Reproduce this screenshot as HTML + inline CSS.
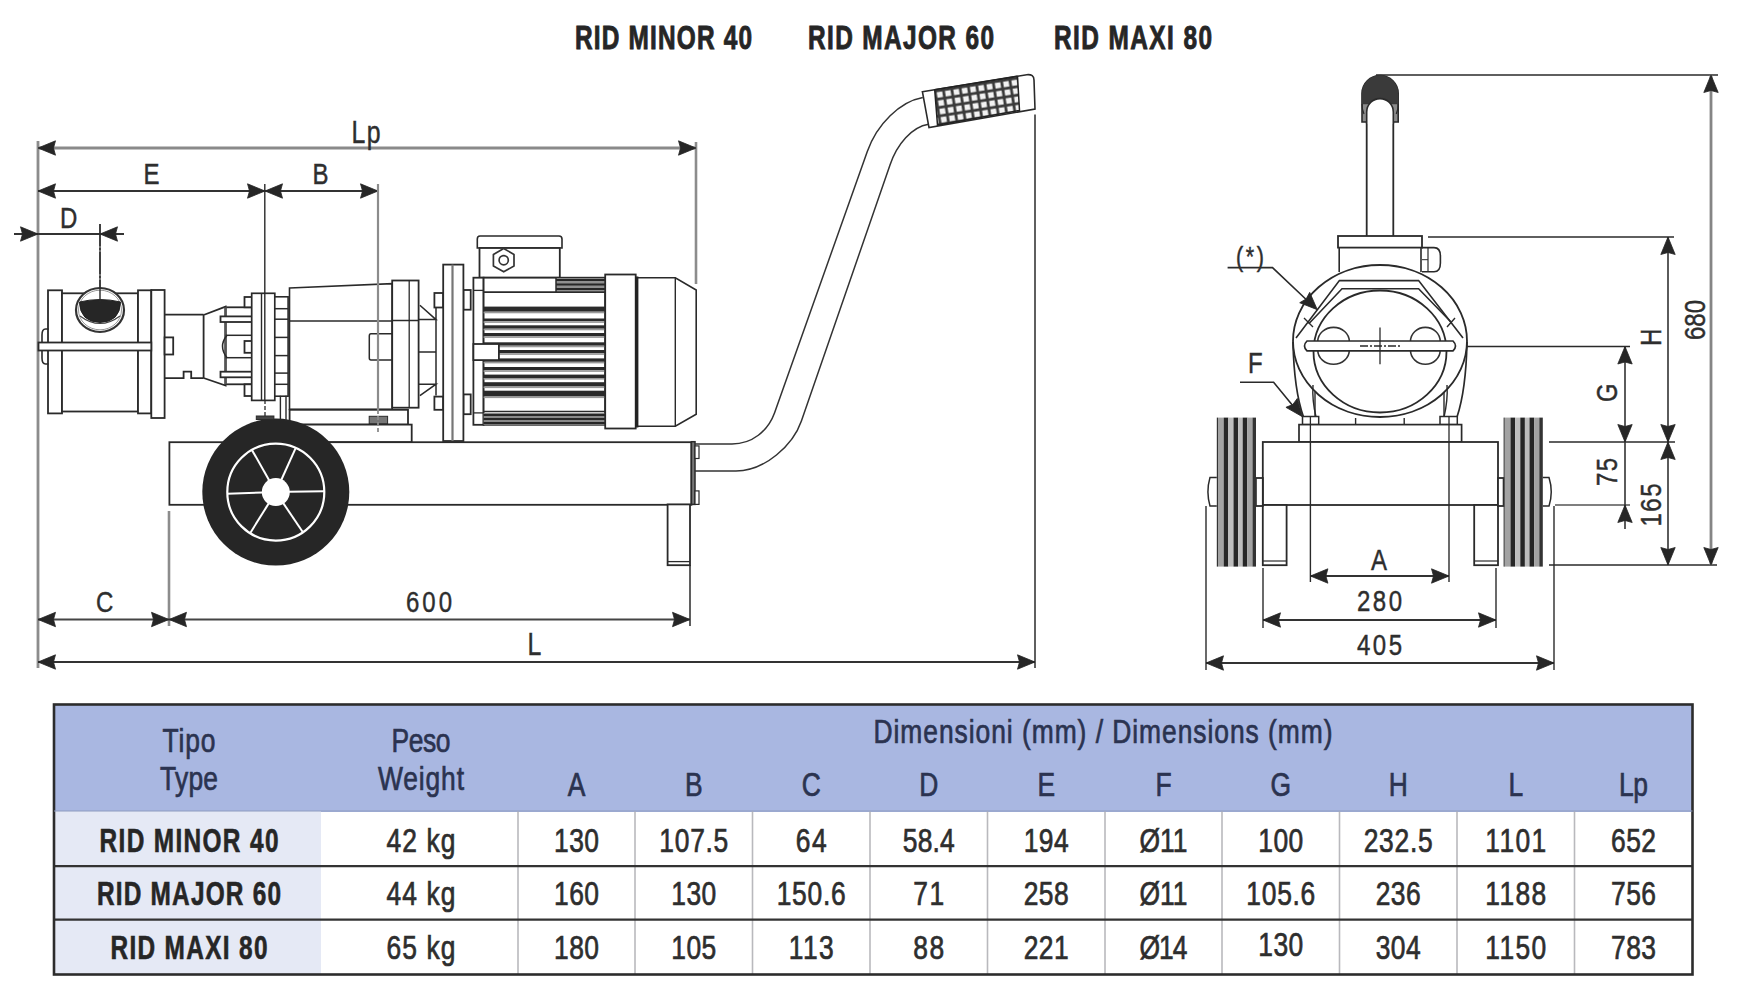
<!DOCTYPE html><html><head><meta charset="utf-8"><style>html,body{margin:0;padding:0;background:#fff;}svg{display:block;}text{font-family:"Liberation Sans",sans-serif;}</style></head><body>
<svg width="1745" height="1000" viewBox="0 0 1745 1000">
<defs><path id="ar" d="M0 0 L17.5 -7.2 L15.5 0 L17.5 7.2 Z" fill="#262626" stroke="#262626" stroke-width="0.8" stroke-linejoin="round"/>
<pattern id="mesh" width="8.4" height="8.4" patternUnits="userSpaceOnUse" patternTransform="rotate(-9) translate(2 1)"><rect width="8.4" height="8.4" fill="#3a3a3a"/><rect x="1.5" y="1.5" width="5.6" height="5.6" fill="#f2f2f2"/></pattern>
</defs>
<rect width="1745" height="1000" fill="#fff"/>
<text x="0" y="0" transform="translate(575 49) scale(0.74 1)" font-size="33" font-weight="bold" fill="#262626" text-anchor="start" textLength="239.19" lengthAdjust="spacing" stroke="#262626" stroke-width="0.9" >RID MINOR 40</text>
<text x="0" y="0" transform="translate(808 49) scale(0.74 1)" font-size="33" font-weight="bold" fill="#262626" text-anchor="start" textLength="251.35" lengthAdjust="spacing" stroke="#262626" stroke-width="0.9" >RID MAJOR 60</text>
<text x="0" y="0" transform="translate(1054 49) scale(0.74 1)" font-size="33" font-weight="bold" fill="#262626" text-anchor="start" textLength="213.51" lengthAdjust="spacing" stroke="#262626" stroke-width="0.9" >RID MAXI 80</text>
<line x1="38" y1="141" x2="38" y2="668" stroke="#8c8c8c" stroke-width="2.8" />
<line x1="696" y1="142" x2="696" y2="284" stroke="#8c8c8c" stroke-width="2.6" />
<line x1="378" y1="184" x2="378" y2="430" stroke="#8c8c8c" stroke-width="2" />
<line x1="100" y1="224" x2="100" y2="300" stroke="#2a2a2a" stroke-width="1.3" />
<line x1="169" y1="511" x2="169" y2="626" stroke="#8c8c8c" stroke-width="2.6" />
<line x1="690" y1="565" x2="690" y2="626" stroke="#2a2a2a" stroke-width="1.5" />
<line x1="1035" y1="114.5" x2="1035" y2="668" stroke="#2a2a2a" stroke-width="1.5" />
<line x1="38" y1="148" x2="696" y2="148" stroke="#8a8a8a" stroke-width="3" />
<use href="#ar" transform="translate(38 148) rotate(0)"/>
<use href="#ar" transform="translate(696 148) rotate(180)"/>
<line x1="38" y1="191" x2="378" y2="191" stroke="#333" stroke-width="2" />
<use href="#ar" transform="translate(38 191) rotate(0)"/>
<use href="#ar" transform="translate(265 191) rotate(180)"/>
<use href="#ar" transform="translate(265 191) rotate(0)"/>
<use href="#ar" transform="translate(378 191) rotate(180)"/>
<line x1="14" y1="234" x2="124" y2="234" stroke="#333" stroke-width="1.8" />
<use href="#ar" transform="translate(38 234) rotate(180)"/>
<use href="#ar" transform="translate(100 234) rotate(0)"/>
<line x1="38" y1="619.5" x2="690" y2="619.5" stroke="#444" stroke-width="2.2" />
<use href="#ar" transform="translate(38 619.5) rotate(0)"/>
<use href="#ar" transform="translate(169 619.5) rotate(180)"/>
<use href="#ar" transform="translate(169 619.5) rotate(0)"/>
<use href="#ar" transform="translate(690 619.5) rotate(180)"/>
<line x1="38" y1="662" x2="1035" y2="662" stroke="#333" stroke-width="2" />
<use href="#ar" transform="translate(38 662) rotate(0)"/>
<use href="#ar" transform="translate(1035 662) rotate(180)"/>
<text x="0" y="0" transform="translate(351.5 143) scale(0.8 1)" font-size="31" font-weight="normal" fill="#2e2e2e" text-anchor="start" textLength="36.25" lengthAdjust="spacing" stroke="#2e2e2e" stroke-width="0.45" >Lp</text>
<text x="0" y="0" transform="translate(143.5 184) scale(0.8 1)" font-size="30" font-weight="normal" fill="#2e2e2e" text-anchor="start" textLength="20.62" lengthAdjust="spacing" stroke="#2e2e2e" stroke-width="0.45" >E</text>
<text x="0" y="0" transform="translate(312.5 184) scale(0.8 1)" font-size="30" font-weight="normal" fill="#2e2e2e" text-anchor="start" textLength="20.62" lengthAdjust="spacing" stroke="#2e2e2e" stroke-width="0.45" >B</text>
<text x="0" y="0" transform="translate(60 228) scale(0.8 1)" font-size="30" font-weight="normal" fill="#2e2e2e" text-anchor="start" textLength="20.62" lengthAdjust="spacing" stroke="#2e2e2e" stroke-width="0.45" >D</text>
<text x="0" y="0" transform="translate(96 611.5) scale(0.8 1)" font-size="30" font-weight="normal" fill="#2e2e2e" text-anchor="start" textLength="18.75" lengthAdjust="spacing" stroke="#2e2e2e" stroke-width="0.45" >C</text>
<text x="0" y="0" transform="translate(406 612) scale(0.8 1)" font-size="30" font-weight="normal" fill="#2e2e2e" text-anchor="start" textLength="57.5" lengthAdjust="spacing" stroke="#2e2e2e" stroke-width="0.45" >600</text>
<text x="0" y="0" transform="translate(527.5 655) scale(0.8 1)" font-size="31" font-weight="normal" fill="#2e2e2e" text-anchor="start" textLength="21.88" lengthAdjust="spacing" stroke="#2e2e2e" stroke-width="0.45" >L</text>
<rect x="48" y="290.3" width="14" height="123.1" stroke="#2a2a2a" stroke-width="1.8" fill="#fff" />
<rect x="62" y="293.3" width="76" height="118.2" stroke="#2a2a2a" stroke-width="1.8" fill="#fff" />
<rect x="138" y="290.3" width="13.3" height="123.1" stroke="#2a2a2a" stroke-width="1.8" fill="#fff" />
<rect x="151.3" y="290" width="13.3" height="128" stroke="#2a2a2a" stroke-width="1.8" fill="#fff" />
<path d="M48.5 329 L45.5 329 Q42 329 42 335 L42 358 Q42 364 45.5 364 L48.5 364" stroke="#2a2a2a" stroke-width="1.6" fill="none" />
<rect x="38.5" y="342.5" width="112.8" height="8.0" stroke="#2a2a2a" stroke-width="1.8" fill="#fff" />
<ellipse cx="100" cy="310" rx="24" ry="22" fill="#fff" stroke="#333" stroke-width="2.2"/>
<ellipse cx="100" cy="310" rx="21.5" ry="19.8" fill="none" stroke="#999" stroke-width="1"/>
<path d="M79.5 302 Q100 297 120.5 302 Q120 322 100 322.5 Q80 322 79.5 302 Z" stroke="#222" stroke-width="1" fill="#262626" />
<path d="M80 316 Q100 331 120 316" stroke="#444" stroke-width="1.2" fill="none" />
<line x1="100" y1="224" x2="100" y2="302" stroke="#2a2a2a" stroke-width="1.4" stroke-dasharray="22 2 2 2"/>
<path d="M164.6 314.6 L203.6 314.6 M164.6 378.2 L183.6 378.2 L183.6 371.6 L191.2 371.6 L191.2 378.2 L203.6 378.2" stroke="#2a2a2a" stroke-width="1.8" fill="none" />
<rect x="164.6" y="337.4" width="8.6" height="17.1" stroke="#2a2a2a" stroke-width="1.8" fill="#fff" />
<path d="M203.6 314.6 L203.6 378.2 M203.6 315 L225.6 306.6 L225.6 385.6 L203.6 378 " stroke="#2a2a2a" stroke-width="1.8" fill="none" />
<rect x="225.6" y="307.3" width="26.4" height="77.0" stroke="#2a2a2a" stroke-width="1.8" fill="#fff" />
<line x1="225.6" y1="307.3" x2="225.6" y2="384.3" stroke="#555" stroke-width="2.4" />
<rect x="220.5" y="316.4" width="31.5" height="5.6" stroke="#2a2a2a" stroke-width="1.8" fill="#fff" />
<rect x="220.5" y="371.7" width="31.5" height="5.6" stroke="#2a2a2a" stroke-width="1.8" fill="#fff" />
<line x1="225.6" y1="335.3" x2="252" y2="335.3" stroke="#2a2a2a" stroke-width="1.5" />
<line x1="225.6" y1="357.7" x2="252" y2="357.7" stroke="#2a2a2a" stroke-width="1.5" />
<path d="M227 335.3 Q218 346.5 227 357.7" stroke="#2a2a2a" stroke-width="1.5" fill="none" />
<rect x="244.5" y="341" width="7.5" height="11.8" stroke="#2a2a2a" stroke-width="1.8" fill="#fff" />
<rect x="244.5" y="297" width="7.5" height="10.3" stroke="#2a2a2a" stroke-width="1.8" fill="#fff" />
<rect x="244.5" y="384.3" width="7.5" height="11.7" stroke="#2a2a2a" stroke-width="1.8" fill="#fff" />
<rect x="251.7" y="293.3" width="23.1" height="107.1" stroke="#2a2a2a" stroke-width="1.7" fill="#fff" />
<line x1="261.5" y1="293.3" x2="261.5" y2="400.4" stroke="#2a2a2a" stroke-width="1.4" />
<line x1="264.8" y1="184" x2="264.8" y2="400.4" stroke="#2a2a2a" stroke-width="1.4" />
<rect x="274.8" y="296.8" width="13.3" height="99.4" stroke="#2a2a2a" stroke-width="1.6" fill="#fff" />
<line x1="274.8" y1="308.7" x2="288.1" y2="308.7" stroke="#2a2a2a" stroke-width="1.5" />
<line x1="274.8" y1="319.2" x2="288.1" y2="319.2" stroke="#2a2a2a" stroke-width="1.5" />
<line x1="274.8" y1="337.4" x2="288.1" y2="337.4" stroke="#2a2a2a" stroke-width="1.5" />
<line x1="274.8" y1="355.6" x2="288.1" y2="355.6" stroke="#2a2a2a" stroke-width="1.5" />
<line x1="274.8" y1="373.1" x2="288.1" y2="373.1" stroke="#2a2a2a" stroke-width="1.5" />
<line x1="274.8" y1="384.3" x2="288.1" y2="384.3" stroke="#2a2a2a" stroke-width="1.5" />
<path d="M289.5 288 L392.2 283.6 L392.2 409.4 L289.5 409.4 Z" stroke="#2a2a2a" stroke-width="1.6" fill="#fff" />
<line x1="289.5" y1="321" x2="418.6" y2="321" stroke="#2a2a2a" stroke-width="1.6" />
<path d="M392.2 333.8 L371 333.8 Q369.3 333.8 369.3 336 L369.3 358 Q369.3 360 371 360 L392.2 360" stroke="#2a2a2a" stroke-width="1.5" fill="none" />
<rect x="392.2" y="280.5" width="26.4" height="127.2" stroke="#2a2a2a" stroke-width="1.8" fill="#fff" />
<line x1="409.2" y1="280.5" x2="409.2" y2="407.7" stroke="#2a2a2a" stroke-width="1.3" />
<line x1="392.2" y1="320.5" x2="418.6" y2="320.5" stroke="#2a2a2a" stroke-width="1.5" />
<path d="M419.9 305.3 L436 319.6 L418.6 319.6 M419.9 395.6 L436 384.2 L418.6 384.2 M418.6 352 L436 352 M436 308 L436 395.6" stroke="#2a2a2a" stroke-width="1.5" fill="none" />
<rect x="289.6" y="409.8" width="118.4" height="14.8" stroke="#2a2a2a" stroke-width="1.8" fill="#fff" />
<rect x="289.6" y="424.6" width="122.1" height="17.6" stroke="#2a2a2a" stroke-width="1.8" fill="#fff" />
<rect x="369.2" y="416.3" width="18.4" height="7.4" stroke="#2a2a2a" stroke-width="1" fill="#777" />
<line x1="378" y1="184" x2="378" y2="410" stroke="#8c8c8c" stroke-width="2.2" />
<line x1="378" y1="410" x2="378" y2="434" stroke="#8c8c8c" stroke-width="1.8" stroke-dasharray="4 2"/>
<rect x="434.4" y="293" width="8.8" height="14.5" stroke="#2a2a2a" stroke-width="1.8" fill="#fff" />
<rect x="434.4" y="396.6" width="8.8" height="13.2" stroke="#2a2a2a" stroke-width="1.8" fill="#fff" />
<rect x="463.4" y="290" width="7.3" height="19.7" stroke="#2a2a2a" stroke-width="1.8" fill="#fff" />
<rect x="463.4" y="394.4" width="7.3" height="19.8" stroke="#2a2a2a" stroke-width="1.8" fill="#fff" />
<rect x="443.2" y="264.6" width="20.2" height="176.4" stroke="#2a2a2a" stroke-width="1.8" fill="#fff" />
<line x1="452.5" y1="264.6" x2="452.5" y2="441" stroke="#777" stroke-width="2.2" />
<path d="M477.3 248 L477.3 239 Q477.3 236 480 236 L559 236 Q562 236 562 239 L562 248 Z" stroke="#2a2a2a" stroke-width="1.6" fill="#fff" />
<rect x="479.5" y="248" width="80.3" height="29.7" stroke="#2a2a2a" stroke-width="1.8" fill="#fff" />
<polygon points="503.7,248.6 514,254.4 514,266 503.7,271.8 493.4,266 493.4,254.4" fill="#fff" stroke="#333" stroke-width="1.7" stroke-linejoin="round"/>
<circle cx="503.7" cy="260.2" r="4.6" fill="#fff" stroke="#333" stroke-width="1.7"/>
<rect x="473.4" y="277.7" width="10.2" height="147.1" stroke="#2a2a2a" stroke-width="1.8" fill="#fff" />
<line x1="473.4" y1="290.4" x2="483.6" y2="290.4" stroke="#2a2a2a" stroke-width="1.3" />
<line x1="473.4" y1="412.9" x2="483.6" y2="412.9" stroke="#2a2a2a" stroke-width="1.3" />
<rect x="483.6" y="277.7" width="121.6" height="147.1" stroke="#2a2a2a" stroke-width="1.8" fill="#fff" />
<rect x="556" y="278.5" width="49.2" height="13" fill="#8f8f8f"/>
<line x1="556" y1="280" x2="605.2" y2="280" stroke="#262626" stroke-width="2" />
<line x1="556" y1="284.5" x2="605.2" y2="284.5" stroke="#262626" stroke-width="2" />
<line x1="556" y1="289" x2="605.2" y2="289" stroke="#262626" stroke-width="2" />
<line x1="556" y1="277.7" x2="556" y2="292" stroke="#2a2a2a" stroke-width="1.5" />
<line x1="483.6" y1="292.1" x2="605.2" y2="292.1" stroke="#2a2a2a" stroke-width="1.6" />
<rect x="483.6" y="306.6" width="121.6" height="5.1" fill="#2a2a2a"/>
<rect x="483.6" y="311.7" width="121.6" height="1.6" fill="#9a9a9a"/>
<rect x="483.6" y="318.5" width="121.6" height="2.8" fill="#2a2a2a"/>
<rect x="483.6" y="321.3" width="121.6" height="1.6" fill="#9a9a9a"/>
<rect x="483.6" y="325.3" width="121.6" height="3.4" fill="#2a2a2a"/>
<rect x="483.6" y="328.7" width="121.6" height="1.6" fill="#9a9a9a"/>
<rect x="483.6" y="333" width="121.6" height="3.3" fill="#2a2a2a"/>
<rect x="483.6" y="336.3" width="121.6" height="1.6" fill="#9a9a9a"/>
<rect x="483.6" y="342.3" width="121.6" height="3.4" fill="#2a2a2a"/>
<rect x="483.6" y="345.7" width="121.6" height="1.6" fill="#9a9a9a"/>
<rect x="483.6" y="350" width="121.6" height="3.3" fill="#2a2a2a"/>
<rect x="483.6" y="353.3" width="121.6" height="1.6" fill="#9a9a9a"/>
<rect x="483.6" y="358.4" width="121.6" height="3.4" fill="#2a2a2a"/>
<rect x="483.6" y="361.8" width="121.6" height="1.6" fill="#9a9a9a"/>
<rect x="483.6" y="367" width="121.6" height="3.3" fill="#2a2a2a"/>
<rect x="483.6" y="370.3" width="121.6" height="1.6" fill="#9a9a9a"/>
<rect x="483.6" y="374.6" width="121.6" height="3.4" fill="#2a2a2a"/>
<rect x="483.6" y="378" width="121.6" height="1.6" fill="#9a9a9a"/>
<rect x="483.6" y="382.2" width="121.6" height="4.3" fill="#2a2a2a"/>
<rect x="483.6" y="386.5" width="121.6" height="1.6" fill="#9a9a9a"/>
<rect x="483.6" y="390.7" width="121.6" height="5.8" fill="#2a2a2a"/>
<rect x="483.6" y="396.5" width="121.6" height="1.6" fill="#9a9a9a"/>
<line x1="483.6" y1="411.5" x2="605.2" y2="411.5" stroke="#2a2a2a" stroke-width="1.6" />
<rect x="483.6" y="413" width="121.6" height="11.8" fill="#8a8a8a"/>
<line x1="483.6" y1="415" x2="605.2" y2="415" stroke="#262626" stroke-width="2.2" />
<line x1="483.6" y1="419" x2="605.2" y2="419" stroke="#262626" stroke-width="2.2" />
<line x1="483.6" y1="423" x2="605.2" y2="423" stroke="#262626" stroke-width="2.2" />
<rect x="473.4" y="344" width="25.5" height="16.1" stroke="#2a2a2a" stroke-width="1.8" fill="#fff" />
<rect x="605.2" y="274.5" width="30.5" height="154.0" stroke="#2a2a2a" stroke-width="1.8" fill="#fff" />
<path d="M636.8 277.8 L675.3 277.8 L696.2 290 L696.2 414.2 L675.3 426.3 L636.8 426.3" stroke="#2a2a2a" stroke-width="1.6" fill="#fff" />
<line x1="636.8" y1="276.5" x2="636.8" y2="427.5" stroke="#222" stroke-width="3.2" />
<line x1="675.3" y1="277.8" x2="675.3" y2="426.3" stroke="#2a2a2a" stroke-width="1.4" />
<rect x="169.4" y="442.2" width="522.0" height="62.6" stroke="#2a2a2a" stroke-width="1.8" fill="#fff" />
<rect x="691.4" y="441.7" width="3.6" height="62.7" stroke="#2a2a2a" stroke-width="1.5" fill="#777" />
<rect x="695" y="445.9" width="4" height="12.6" stroke="#2a2a2a" stroke-width="1.2" fill="#fff" />
<rect x="695" y="490.9" width="4" height="13.5" stroke="#2a2a2a" stroke-width="1.2" fill="#fff" />
<rect x="667.6" y="504.4" width="22.4" height="60.8" stroke="#2a2a2a" stroke-width="1.8" fill="#fff" />
<line x1="667.6" y1="561.6" x2="690" y2="561.6" stroke="#2a2a2a" stroke-width="1.3" />
<path d="M695 444 L732 444 C752 444 768 431 774.5 413 L867.3 151.5 C877 124 900 101.6 922.8 97.5" stroke="#333" stroke-width="1.5" fill="none" />
<path d="M695 471 L736 471 C765 471 793.1 445 801.4 421 L890 165 C897 144 912 126.8 928.5 124.2" stroke="#333" stroke-width="1.5" fill="none" />
<path d="M922.4 91.7 L1026.8 74.7 Q1034 74 1034 80 L1035 109 L929 127.6 Z" stroke="#2a2a2a" stroke-width="1.6" fill="#fff" />
<path d="M934.7 89.7 L1017.5 76.4 L1019.5 110.5 L937.5 125 Z" stroke="#222" stroke-width="1.5" fill="url(#mesh)" />
<circle cx="275.8" cy="492.1" r="73.5" fill="#262626"/>
<circle cx="275.8" cy="492.1" r="48.5" fill="none" stroke="#fff" stroke-width="2.2"/>
<line x1="288.8" y1="491.87" x2="324.29" y2="491.25" stroke="#fff" stroke-width="2" />
<line x1="283.07" y1="502.88" x2="302.92" y2="532.31" stroke="#fff" stroke-width="2" />
<line x1="268.91" y1="503.12" x2="250.1" y2="533.23" stroke="#fff" stroke-width="2" />
<line x1="262.81" y1="492.55" x2="227.33" y2="493.79" stroke="#fff" stroke-width="2" />
<line x1="269.4" y1="480.79" x2="251.92" y2="449.89" stroke="#fff" stroke-width="2" />
<line x1="281.15" y1="480.25" x2="295.76" y2="447.9" stroke="#fff" stroke-width="2" />
<circle cx="275.8" cy="492.1" r="14" fill="#fff"/>
<rect x="256.3" y="416" width="17.6" height="3.5" stroke="#2a2a2a" stroke-width="1" fill="#444" />
<line x1="265" y1="400" x2="265" y2="417" stroke="#2a2a2a" stroke-width="1.3" stroke-dasharray="4 2"/>
<line x1="280.4" y1="395.8" x2="280.4" y2="419" stroke="#2a2a2a" stroke-width="1.4" />
<line x1="286" y1="395.8" x2="286" y2="421" stroke="#2a2a2a" stroke-width="1.4" />
<line x1="1376" y1="75" x2="1718" y2="75" stroke="#2a2a2a" stroke-width="1.5" />
<line x1="1428" y1="237" x2="1674" y2="237" stroke="#2a2a2a" stroke-width="1.5" />
<line x1="1400" y1="346.5" x2="1630" y2="346.5" stroke="#2a2a2a" stroke-width="1.5" />
<line x1="1549" y1="442" x2="1675" y2="442" stroke="#2a2a2a" stroke-width="1.5" />
<line x1="1555" y1="505" x2="1630" y2="505" stroke="#555" stroke-width="1.5" />
<line x1="1549" y1="565" x2="1717" y2="565" stroke="#2a2a2a" stroke-width="1.5" />
<line x1="1711" y1="75" x2="1711" y2="565" stroke="#858585" stroke-width="2.8" />
<use href="#ar" transform="translate(1711 75) rotate(90)"/>
<use href="#ar" transform="translate(1711 565) rotate(-90)"/>
<line x1="1668" y1="237" x2="1668" y2="565" stroke="#333" stroke-width="1.6" />
<use href="#ar" transform="translate(1668 237) rotate(90)"/>
<use href="#ar" transform="translate(1668 442) rotate(-90)"/>
<use href="#ar" transform="translate(1668 442) rotate(90)"/>
<use href="#ar" transform="translate(1668 565) rotate(-90)"/>
<line x1="1625" y1="346.5" x2="1625" y2="529" stroke="#333" stroke-width="1.6" />
<use href="#ar" transform="translate(1625 346.5) rotate(90)"/>
<use href="#ar" transform="translate(1625 442) rotate(-90)"/>
<use href="#ar" transform="translate(1625 505) rotate(90)"/>
<text x="0" y="0" transform="translate(1704.5 340) rotate(-90) scale(0.8 1)" font-size="30" font-weight="normal" fill="#2e2e2e" text-anchor="start" textLength="50.0" lengthAdjust="spacing" stroke="#2e2e2e" stroke-width="0.45" >680</text>
<text x="0" y="0" transform="translate(1661 346) rotate(-90) scale(0.8 1)" font-size="30" font-weight="normal" fill="#2e2e2e" text-anchor="start" textLength="20.0" lengthAdjust="spacing" stroke="#2e2e2e" stroke-width="0.45" >H</text>
<text x="0" y="0" transform="translate(1616.5 402) rotate(-90) scale(0.8 1)" font-size="30" font-weight="normal" fill="#2e2e2e" text-anchor="start" textLength="20.0" lengthAdjust="spacing" stroke="#2e2e2e" stroke-width="0.45" >G</text>
<text x="0" y="0" transform="translate(1616.5 486) rotate(-90) scale(0.8 1)" font-size="30" font-weight="normal" fill="#2e2e2e" text-anchor="start" textLength="35.0" lengthAdjust="spacing" stroke="#2e2e2e" stroke-width="0.45" >75</text>
<text x="0" y="0" transform="translate(1661 526.5) rotate(-90) scale(0.8 1)" font-size="30" font-weight="normal" fill="#2e2e2e" text-anchor="start" textLength="53.75" lengthAdjust="spacing" stroke="#2e2e2e" stroke-width="0.45" >165</text>
<line x1="1310.4" y1="442" x2="1310.4" y2="582" stroke="#2a2a2a" stroke-width="1.4" />
<line x1="1449" y1="442" x2="1449" y2="582" stroke="#2a2a2a" stroke-width="1.4" />
<line x1="1310.4" y1="576" x2="1449" y2="576" stroke="#333" stroke-width="1.8" />
<use href="#ar" transform="translate(1310.4 576) rotate(0)"/>
<use href="#ar" transform="translate(1449 576) rotate(180)"/>
<line x1="1263" y1="568" x2="1263" y2="628" stroke="#2a2a2a" stroke-width="1.4" />
<line x1="1496" y1="568" x2="1496" y2="628" stroke="#2a2a2a" stroke-width="1.4" />
<line x1="1263" y1="620" x2="1496" y2="620" stroke="#333" stroke-width="1.8" />
<use href="#ar" transform="translate(1263 620) rotate(0)"/>
<use href="#ar" transform="translate(1496 620) rotate(180)"/>
<line x1="1206" y1="506" x2="1206" y2="670" stroke="#2a2a2a" stroke-width="1.4" />
<line x1="1554" y1="506" x2="1554" y2="670" stroke="#2a2a2a" stroke-width="1.4" />
<line x1="1206" y1="663" x2="1554" y2="663" stroke="#333" stroke-width="1.8" />
<use href="#ar" transform="translate(1206 663) rotate(0)"/>
<use href="#ar" transform="translate(1554 663) rotate(180)"/>
<text x="0" y="0" transform="translate(1371 569.5) scale(0.8 1)" font-size="30" font-weight="normal" fill="#2e2e2e" text-anchor="start" textLength="21.25" lengthAdjust="spacing" stroke="#2e2e2e" stroke-width="0.45" >A</text>
<text x="0" y="0" transform="translate(1357 610.8) scale(0.8 1)" font-size="30" font-weight="normal" fill="#2e2e2e" text-anchor="start" textLength="56.25" lengthAdjust="spacing" stroke="#2e2e2e" stroke-width="0.45" >280</text>
<text x="0" y="0" transform="translate(1357 655) scale(0.8 1)" font-size="30" font-weight="normal" fill="#2e2e2e" text-anchor="start" textLength="56.25" lengthAdjust="spacing" stroke="#2e2e2e" stroke-width="0.45" >405</text>
<path d="M1366.7 236 L1366.7 110 M1393.3 236 L1393.3 110" stroke="#2a2a2a" stroke-width="1.8" fill="none" />
<path d="M1362 122 L1362 93.6 A18.1 18.1 0 0 1 1398.2 93.6 L1398.2 122 Z" stroke="#2a2a2a" stroke-width="1.6" fill="#8a8a8a" />
<path d="M1362 104 L1362 93.6 A18.1 18.1 0 0 1 1398.2 93.6 L1398.2 104 Z" stroke="#3a3a3a" stroke-width="0.5" fill="#3a3a3a" />
<path d="M1366.7 124 L1366.7 111.9 A13.3 13.3 0 0 1 1393.3 111.9 L1393.3 124 Z" stroke="none" stroke-width="0" fill="#fff" />
<path d="M1366.7 124 L1366.7 111.9 A13.3 13.3 0 0 1 1393.3 111.9 L1393.3 124" stroke="#2a2a2a" stroke-width="1.6" fill="none" />
<path d="M1362 104 Q1362 110 1364 114" stroke="#2a2a2a" stroke-width="1.2" fill="none" />
<path d="M1398.2 104 Q1398.2 110 1396.2 114" stroke="#2a2a2a" stroke-width="1.2" fill="none" />
<rect x="1338" y="236" width="84" height="11.6" stroke="#2a2a2a" stroke-width="1.8" fill="#fff" />
<path d="M1339.2 247.6 L1339.2 272 M1421 247.6 L1421 272" stroke="#2a2a2a" stroke-width="1.6" fill="none" />
<path d="M1422 247.6 L1434 247.6 Q1440.4 247.6 1440.4 256 L1440.4 263 Q1440.4 271.8 1434 271.8 L1422 271.8" stroke="#2a2a2a" stroke-width="1.6" fill="none" />
<line x1="1428" y1="248" x2="1428" y2="271.8" stroke="#2a2a2a" stroke-width="1.2" />
<line x1="1422" y1="259.7" x2="1428" y2="259.7" stroke="#2a2a2a" stroke-width="1" />
<ellipse cx="1380" cy="341" rx="87" ry="76" fill="#fff" stroke="#2a2a2a" stroke-width="1.8"/>
<path d="M1303.5 417 Q1294 390 1293 342 M1467 342 Q1466 390 1457 417" stroke="#2a2a2a" stroke-width="1.7" fill="none" />
<path d="M1316 417 Q1312 400 1313 385" stroke="#2a2a2a" stroke-width="1.4" fill="none" />
<path d="M1444 417 Q1448 400 1447 385" stroke="#2a2a2a" stroke-width="1.4" fill="none" />
<ellipse cx="1380" cy="351.5" rx="66.5" ry="61" fill="#fff" stroke="#2a2a2a" stroke-width="1.8"/>
<path d="M1296 338 L1339.4 280.6 L1418.6 280.6 L1463 338" stroke="#2a2a2a" stroke-width="1.6" fill="none" />
<path d="M1308.8 323.8 L1342 288.7 L1418.6 288.7 L1451 322" stroke="#2a2a2a" stroke-width="1.6" fill="none" />
<path d="M1304 318 L1313 327 M1455 318 L1447 327" stroke="#2a2a2a" stroke-width="1.4" fill="none" />
<rect x="1317.8" y="327.4" width="31.5" height="36.9" rx="15.7" ry="14" fill="#fff" stroke="#333" stroke-width="1.6"/>
<rect x="1410.5" y="327.4" width="29.7" height="36.9" rx="14.8" ry="14" fill="#fff" stroke="#333" stroke-width="1.6"/>
<path d="M1307 341 L1453 341 Q1458 345.9 1453 350.8 L1307 350.8 Q1302 345.9 1307 341 Z" stroke="#2a2a2a" stroke-width="1.7" fill="#fff" />
<line x1="1380" y1="327.4" x2="1380" y2="364.3" stroke="#2a2a2a" stroke-width="1.3" />
<line x1="1360" y1="346" x2="1400" y2="346" stroke="#2a2a2a" stroke-width="1.3" stroke-dasharray="8 2 2 2"/>
<path d="M1315 392 L1315 417 M1444 392 L1444 417 M1355.6 418 L1355.6 424.6 M1404.2 418 L1404.2 424.6" stroke="#2a2a2a" stroke-width="1.4" fill="none" />
<rect x="1302.5" y="416.5" width="16.2" height="8.1" stroke="#2a2a2a" stroke-width="1.5" fill="#fff" />
<rect x="1440" y="416.5" width="17.3" height="8.1" stroke="#2a2a2a" stroke-width="1.5" fill="#fff" />
<rect x="1299" y="424.6" width="162.6" height="17.4" stroke="#2a2a2a" stroke-width="1.7" fill="#fff" />
<line x1="1310.4" y1="416.5" x2="1310.4" y2="442" stroke="#2a2a2a" stroke-width="1.3" />
<line x1="1449" y1="416.5" x2="1449" y2="442" stroke="#2a2a2a" stroke-width="1.3" />
<rect x="1262.8" y="442" width="235.2" height="63" stroke="#2a2a2a" stroke-width="1.8" fill="#fff" />
<line x1="1310.4" y1="442" x2="1310.4" y2="505" stroke="#2a2a2a" stroke-width="1.4" />
<line x1="1449" y1="442" x2="1449" y2="505" stroke="#2a2a2a" stroke-width="1.4" />
<rect x="1262.8" y="505" width="23.8" height="60.2" stroke="#2a2a2a" stroke-width="1.8" fill="#fff" />
<line x1="1262.8" y1="561" x2="1286.6" y2="561" stroke="#2a2a2a" stroke-width="1.2" />
<rect x="1474.2" y="505" width="23.8" height="60.2" stroke="#2a2a2a" stroke-width="1.8" fill="#fff" />
<line x1="1474.2" y1="561" x2="1498" y2="561" stroke="#2a2a2a" stroke-width="1.2" />
<rect x="1255.9" y="478" width="6.9" height="28" stroke="#2a2a2a" stroke-width="1.8" fill="#fff" />
<rect x="1498" y="478" width="5.6" height="28" stroke="#2a2a2a" stroke-width="1.8" fill="#fff" />
<path d="M1216.8 477.4 L1210 477.4 Q1205.9 491.7 1210 506.1 L1216.8 506.1" stroke="#2a2a2a" stroke-width="1.5" fill="none" />
<path d="M1542.8 477.4 L1549 477.4 Q1553.5 491.7 1549 506.1 L1542.8 506.1" stroke="#2a2a2a" stroke-width="1.5" fill="none" />
<rect x="1216.8" y="417.6" width="1.2" height="149" fill="#333"/>
<rect x="1218.0" y="417.6" width="5.7" height="149" fill="#a3a3a3"/>
<rect x="1223.7" y="417.6" width="4.6" height="149" fill="#262626"/>
<rect x="1228.3" y="417.6" width="5.2" height="149" fill="#bdbdbd"/>
<rect x="1233.5" y="417.6" width="4.6" height="149" fill="#262626"/>
<rect x="1238.1" y="417.6" width="4.6" height="149" fill="#bdbdbd"/>
<rect x="1242.7" y="417.6" width="4.6" height="149" fill="#262626"/>
<rect x="1247.3" y="417.6" width="5.2" height="149" fill="#a3a3a3"/>
<rect x="1252.5" y="417.6" width="3.5" height="149" fill="#333"/>
<rect x="1503.6" y="417.6" width="1.2" height="149" fill="#333"/>
<rect x="1504.8" y="417.6" width="5.7" height="149" fill="#a3a3a3"/>
<rect x="1510.5" y="417.6" width="4.6" height="149" fill="#262626"/>
<rect x="1515.1" y="417.6" width="5.2" height="149" fill="#bdbdbd"/>
<rect x="1520.3" y="417.6" width="4.6" height="149" fill="#262626"/>
<rect x="1524.9" y="417.6" width="4.6" height="149" fill="#bdbdbd"/>
<rect x="1529.5" y="417.6" width="4.6" height="149" fill="#262626"/>
<rect x="1534.1" y="417.6" width="5.2" height="149" fill="#a3a3a3"/>
<rect x="1539.3" y="417.6" width="3.5" height="149" fill="#333"/>
<path d="M1227.6 267.6 L1272.5 267.6 L1312 305" stroke="#2a2a2a" stroke-width="1.6" fill="none" />
<use href="#ar" transform="translate(1317.3 309.7) rotate(-136)"/>
<text x="0" y="0" transform="translate(1236 266) scale(0.8 1)" font-size="27" font-weight="normal" fill="#2e2e2e" text-anchor="start" textLength="35.0" lengthAdjust="spacing" stroke="#2e2e2e" stroke-width="0.45" >(*)</text>
<path d="M1240 382.2 L1273.6 382.2 L1298 412" stroke="#2a2a2a" stroke-width="1.6" fill="none" />
<use href="#ar" transform="translate(1302.4 416.7) rotate(-128)"/>
<text x="0" y="0" transform="translate(1248 373) scale(0.8 1)" font-size="30" font-weight="normal" fill="#2e2e2e" text-anchor="start" textLength="18.75" lengthAdjust="spacing" stroke="#2e2e2e" stroke-width="0.45" >F</text>
<rect x="54" y="704" width="1638.5" height="108" fill="#a9b7e1"/>
<rect x="54" y="811" width="267" height="163" fill="#e5e9f5"/>
<line x1="518" y1="811" x2="518" y2="974" stroke="#b9b9bd" stroke-width="1.6" />
<line x1="635" y1="811" x2="635" y2="974" stroke="#b9b9bd" stroke-width="1.6" />
<line x1="752.5" y1="811" x2="752.5" y2="974" stroke="#b9b9bd" stroke-width="1.6" />
<line x1="870" y1="811" x2="870" y2="974" stroke="#b9b9bd" stroke-width="1.6" />
<line x1="987.5" y1="811" x2="987.5" y2="974" stroke="#b9b9bd" stroke-width="1.6" />
<line x1="1105" y1="811" x2="1105" y2="974" stroke="#b9b9bd" stroke-width="1.6" />
<line x1="1222" y1="811" x2="1222" y2="974" stroke="#b9b9bd" stroke-width="1.6" />
<line x1="1339.5" y1="811" x2="1339.5" y2="974" stroke="#b9b9bd" stroke-width="1.6" />
<line x1="1457" y1="811" x2="1457" y2="974" stroke="#b9b9bd" stroke-width="1.6" />
<line x1="1574.5" y1="811" x2="1574.5" y2="974" stroke="#b9b9bd" stroke-width="1.6" />
<line x1="54" y1="866.2" x2="1692.5" y2="866.2" stroke="#333" stroke-width="2.2" />
<line x1="54" y1="919.6" x2="1692.5" y2="919.6" stroke="#333" stroke-width="2.2" />
<rect x="54" y="704.5" width="1638.5" height="270" fill="none" stroke="#2c2c2c" stroke-width="2.6"/>
<line x1="54" y1="811" x2="1692.5" y2="811" stroke="#8e9bbf" stroke-width="1.2" />
<text x="0" y="0" transform="translate(189 752) scale(0.8 1)" font-size="33" font-weight="normal" fill="#2b3350" text-anchor="middle" textLength="66.25" lengthAdjust="spacing" stroke="#2b3350" stroke-width="0.7" >Tipo</text>
<text x="0" y="0" transform="translate(189 790) scale(0.8 1)" font-size="33" font-weight="normal" fill="#2b3350" text-anchor="middle" textLength="72.5" lengthAdjust="spacing" stroke="#2b3350" stroke-width="0.7" >Type</text>
<text x="0" y="0" transform="translate(421 752) scale(0.8 1)" font-size="33" font-weight="normal" fill="#2b3350" text-anchor="middle" textLength="73.75" lengthAdjust="spacing" stroke="#2b3350" stroke-width="0.7" >Peso</text>
<text x="0" y="0" transform="translate(421 790) scale(0.8 1)" font-size="33" font-weight="normal" fill="#2b3350" text-anchor="middle" textLength="107.5" lengthAdjust="spacing" stroke="#2b3350" stroke-width="0.7" >Weight</text>
<text x="0" y="0" transform="translate(1103 743) scale(0.8 1)" font-size="33" font-weight="normal" fill="#2b3350" text-anchor="middle" textLength="573.75" lengthAdjust="spacing" stroke="#2b3350" stroke-width="0.7" >Dimensioni (mm) / Dimensions (mm)</text>
<text x="0" y="0" transform="translate(576.5 796) scale(0.8 1)" font-size="33" font-weight="normal" fill="#2b3350" text-anchor="middle" textLength="21.25" lengthAdjust="spacing" stroke="#2b3350" stroke-width="0.7" >A</text>
<text x="0" y="0" transform="translate(693.8 796) scale(0.8 1)" font-size="33" font-weight="normal" fill="#2b3350" text-anchor="middle" textLength="21.25" lengthAdjust="spacing" stroke="#2b3350" stroke-width="0.7" >B</text>
<text x="0" y="0" transform="translate(811.2 796) scale(0.8 1)" font-size="33" font-weight="normal" fill="#2b3350" text-anchor="middle" textLength="21.25" lengthAdjust="spacing" stroke="#2b3350" stroke-width="0.7" >C</text>
<text x="0" y="0" transform="translate(928.8 796) scale(0.8 1)" font-size="33" font-weight="normal" fill="#2b3350" text-anchor="middle" textLength="21.25" lengthAdjust="spacing" stroke="#2b3350" stroke-width="0.7" >D</text>
<text x="0" y="0" transform="translate(1046.2 796) scale(0.8 1)" font-size="33" font-weight="normal" fill="#2b3350" text-anchor="middle" textLength="21.25" lengthAdjust="spacing" stroke="#2b3350" stroke-width="0.7" >E</text>
<text x="0" y="0" transform="translate(1163.5 796) scale(0.8 1)" font-size="33" font-weight="normal" fill="#2b3350" text-anchor="middle" textLength="21.25" lengthAdjust="spacing" stroke="#2b3350" stroke-width="0.7" >F</text>
<text x="0" y="0" transform="translate(1280.8 796) scale(0.8 1)" font-size="33" font-weight="normal" fill="#2b3350" text-anchor="middle" textLength="21.25" lengthAdjust="spacing" stroke="#2b3350" stroke-width="0.7" >G</text>
<text x="0" y="0" transform="translate(1398.2 796) scale(0.8 1)" font-size="33" font-weight="normal" fill="#2b3350" text-anchor="middle" textLength="21.25" lengthAdjust="spacing" stroke="#2b3350" stroke-width="0.7" >H</text>
<text x="0" y="0" transform="translate(1515.8 796) scale(0.8 1)" font-size="33" font-weight="normal" fill="#2b3350" text-anchor="middle" textLength="21.25" lengthAdjust="spacing" stroke="#2b3350" stroke-width="0.7" >L</text>
<text x="0" y="0" transform="translate(1633.5 796) scale(0.8 1)" font-size="33" font-weight="normal" fill="#2b3350" text-anchor="middle" textLength="36.25" lengthAdjust="spacing" stroke="#2b3350" stroke-width="0.7" >Lp</text>
<text x="0" y="0" transform="translate(189 851.6) scale(0.74 1)" font-size="33" font-weight="bold" fill="#262626" text-anchor="middle" textLength="241.89" lengthAdjust="spacing" stroke="#262626" stroke-width="0.6" >RID MINOR 40</text>
<text x="0" y="0" transform="translate(421 851.6) scale(0.8 1)" font-size="33" font-weight="normal" fill="#2e2e2e" text-anchor="middle" textLength="86.25" lengthAdjust="spacing" stroke="#2e2e2e" stroke-width="0.7" >42 kg</text>
<text x="0" y="0" transform="translate(576.5 851.6) scale(0.8 1)" font-size="33" font-weight="normal" fill="#2e2e2e" text-anchor="middle" textLength="56.25" lengthAdjust="spacing" stroke="#2e2e2e" stroke-width="0.7" >130</text>
<text x="0" y="0" transform="translate(693.8 851.6) scale(0.8 1)" font-size="33" font-weight="normal" fill="#2e2e2e" text-anchor="middle" textLength="86.25" lengthAdjust="spacing" stroke="#2e2e2e" stroke-width="0.7" >107.5</text>
<text x="0" y="0" transform="translate(811.2 851.6) scale(0.8 1)" font-size="33" font-weight="normal" fill="#2e2e2e" text-anchor="middle" textLength="38.75" lengthAdjust="spacing" stroke="#2e2e2e" stroke-width="0.7" >64</text>
<text x="0" y="0" transform="translate(928.8 851.6) scale(0.8 1)" font-size="33" font-weight="normal" fill="#2e2e2e" text-anchor="middle" textLength="65.0" lengthAdjust="spacing" stroke="#2e2e2e" stroke-width="0.7" >58.4</text>
<text x="0" y="0" transform="translate(1046.2 851.6) scale(0.8 1)" font-size="33" font-weight="normal" fill="#2e2e2e" text-anchor="middle" textLength="56.25" lengthAdjust="spacing" stroke="#2e2e2e" stroke-width="0.7" >194</text>
<text x="0" y="0" transform="translate(1163.5 851.6) scale(0.8 1)" font-size="33" font-weight="normal" fill="#2e2e2e" text-anchor="middle" textLength="60.0" lengthAdjust="spacing" stroke="#2e2e2e" stroke-width="0.7" >Ø11</text>
<text x="0" y="0" transform="translate(1280.8 851.6) scale(0.8 1)" font-size="33" font-weight="normal" fill="#2e2e2e" text-anchor="middle" textLength="56.25" lengthAdjust="spacing" stroke="#2e2e2e" stroke-width="0.7" >100</text>
<text x="0" y="0" transform="translate(1398.2 851.6) scale(0.8 1)" font-size="33" font-weight="normal" fill="#2e2e2e" text-anchor="middle" textLength="86.25" lengthAdjust="spacing" stroke="#2e2e2e" stroke-width="0.7" >232.5</text>
<text x="0" y="0" transform="translate(1515.8 851.6) scale(0.8 1)" font-size="33" font-weight="normal" fill="#2e2e2e" text-anchor="middle" textLength="76.25" lengthAdjust="spacing" stroke="#2e2e2e" stroke-width="0.7" >1101</text>
<text x="0" y="0" transform="translate(1633.5 851.6) scale(0.8 1)" font-size="33" font-weight="normal" fill="#2e2e2e" text-anchor="middle" textLength="56.25" lengthAdjust="spacing" stroke="#2e2e2e" stroke-width="0.7" >652</text>
<text x="0" y="0" transform="translate(189 904.8) scale(0.74 1)" font-size="33" font-weight="bold" fill="#262626" text-anchor="middle" textLength="248.65" lengthAdjust="spacing" stroke="#262626" stroke-width="0.6" >RID MAJOR 60</text>
<text x="0" y="0" transform="translate(421 904.8) scale(0.8 1)" font-size="33" font-weight="normal" fill="#2e2e2e" text-anchor="middle" textLength="86.25" lengthAdjust="spacing" stroke="#2e2e2e" stroke-width="0.7" >44 kg</text>
<text x="0" y="0" transform="translate(576.5 904.8) scale(0.8 1)" font-size="33" font-weight="normal" fill="#2e2e2e" text-anchor="middle" textLength="56.25" lengthAdjust="spacing" stroke="#2e2e2e" stroke-width="0.7" >160</text>
<text x="0" y="0" transform="translate(693.8 904.8) scale(0.8 1)" font-size="33" font-weight="normal" fill="#2e2e2e" text-anchor="middle" textLength="56.25" lengthAdjust="spacing" stroke="#2e2e2e" stroke-width="0.7" >130</text>
<text x="0" y="0" transform="translate(811.2 904.8) scale(0.8 1)" font-size="33" font-weight="normal" fill="#2e2e2e" text-anchor="middle" textLength="86.25" lengthAdjust="spacing" stroke="#2e2e2e" stroke-width="0.7" >150.6</text>
<text x="0" y="0" transform="translate(928.8 904.8) scale(0.8 1)" font-size="33" font-weight="normal" fill="#2e2e2e" text-anchor="middle" textLength="38.75" lengthAdjust="spacing" stroke="#2e2e2e" stroke-width="0.7" >71</text>
<text x="0" y="0" transform="translate(1046.2 904.8) scale(0.8 1)" font-size="33" font-weight="normal" fill="#2e2e2e" text-anchor="middle" textLength="56.25" lengthAdjust="spacing" stroke="#2e2e2e" stroke-width="0.7" >258</text>
<text x="0" y="0" transform="translate(1163.5 904.8) scale(0.8 1)" font-size="33" font-weight="normal" fill="#2e2e2e" text-anchor="middle" textLength="60.0" lengthAdjust="spacing" stroke="#2e2e2e" stroke-width="0.7" >Ø11</text>
<text x="0" y="0" transform="translate(1280.8 904.8) scale(0.8 1)" font-size="33" font-weight="normal" fill="#2e2e2e" text-anchor="middle" textLength="86.25" lengthAdjust="spacing" stroke="#2e2e2e" stroke-width="0.7" >105.6</text>
<text x="0" y="0" transform="translate(1398.2 904.8) scale(0.8 1)" font-size="33" font-weight="normal" fill="#2e2e2e" text-anchor="middle" textLength="56.25" lengthAdjust="spacing" stroke="#2e2e2e" stroke-width="0.7" >236</text>
<text x="0" y="0" transform="translate(1515.8 904.8) scale(0.8 1)" font-size="33" font-weight="normal" fill="#2e2e2e" text-anchor="middle" textLength="76.25" lengthAdjust="spacing" stroke="#2e2e2e" stroke-width="0.7" >1188</text>
<text x="0" y="0" transform="translate(1633.5 904.8) scale(0.8 1)" font-size="33" font-weight="normal" fill="#2e2e2e" text-anchor="middle" textLength="56.25" lengthAdjust="spacing" stroke="#2e2e2e" stroke-width="0.7" >756</text>
<text x="0" y="0" transform="translate(189 958.5) scale(0.74 1)" font-size="33" font-weight="bold" fill="#262626" text-anchor="middle" textLength="212.16" lengthAdjust="spacing" stroke="#262626" stroke-width="0.6" >RID MAXI 80</text>
<text x="0" y="0" transform="translate(421 958.5) scale(0.8 1)" font-size="33" font-weight="normal" fill="#2e2e2e" text-anchor="middle" textLength="86.25" lengthAdjust="spacing" stroke="#2e2e2e" stroke-width="0.7" >65 kg</text>
<text x="0" y="0" transform="translate(576.5 958.5) scale(0.8 1)" font-size="33" font-weight="normal" fill="#2e2e2e" text-anchor="middle" textLength="56.25" lengthAdjust="spacing" stroke="#2e2e2e" stroke-width="0.7" >180</text>
<text x="0" y="0" transform="translate(693.8 958.5) scale(0.8 1)" font-size="33" font-weight="normal" fill="#2e2e2e" text-anchor="middle" textLength="56.25" lengthAdjust="spacing" stroke="#2e2e2e" stroke-width="0.7" >105</text>
<text x="0" y="0" transform="translate(811.2 958.5) scale(0.8 1)" font-size="33" font-weight="normal" fill="#2e2e2e" text-anchor="middle" textLength="56.25" lengthAdjust="spacing" stroke="#2e2e2e" stroke-width="0.7" >113</text>
<text x="0" y="0" transform="translate(928.8 958.5) scale(0.8 1)" font-size="33" font-weight="normal" fill="#2e2e2e" text-anchor="middle" textLength="38.75" lengthAdjust="spacing" stroke="#2e2e2e" stroke-width="0.7" >88</text>
<text x="0" y="0" transform="translate(1046.2 958.5) scale(0.8 1)" font-size="33" font-weight="normal" fill="#2e2e2e" text-anchor="middle" textLength="56.25" lengthAdjust="spacing" stroke="#2e2e2e" stroke-width="0.7" >221</text>
<text x="0" y="0" transform="translate(1163.5 958.5) scale(0.8 1)" font-size="33" font-weight="normal" fill="#2e2e2e" text-anchor="middle" textLength="60.0" lengthAdjust="spacing" stroke="#2e2e2e" stroke-width="0.7" >Ø14</text>
<text x="0" y="0" transform="translate(1280.8 955.5) scale(0.8 1)" font-size="33" font-weight="normal" fill="#2e2e2e" text-anchor="middle" textLength="56.25" lengthAdjust="spacing" stroke="#2e2e2e" stroke-width="0.7" >130</text>
<text x="0" y="0" transform="translate(1398.2 958.5) scale(0.8 1)" font-size="33" font-weight="normal" fill="#2e2e2e" text-anchor="middle" textLength="56.25" lengthAdjust="spacing" stroke="#2e2e2e" stroke-width="0.7" >304</text>
<text x="0" y="0" transform="translate(1515.8 958.5) scale(0.8 1)" font-size="33" font-weight="normal" fill="#2e2e2e" text-anchor="middle" textLength="76.25" lengthAdjust="spacing" stroke="#2e2e2e" stroke-width="0.7" >1150</text>
<text x="0" y="0" transform="translate(1633.5 958.5) scale(0.8 1)" font-size="33" font-weight="normal" fill="#2e2e2e" text-anchor="middle" textLength="56.25" lengthAdjust="spacing" stroke="#2e2e2e" stroke-width="0.7" >783</text>
</svg></body></html>
